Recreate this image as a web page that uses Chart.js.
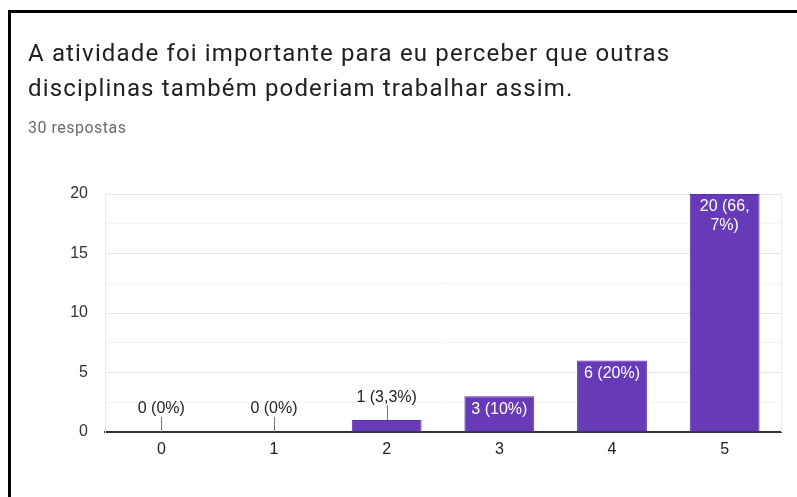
<!DOCTYPE html>
<html>
<head>
<meta charset="utf-8">
<script src="https://cdn.jsdelivr.net/npm/chart.js@4.4.1/dist/chart.umd.min.js"></script>
<style>
    body { margin: 0; background: #fff; }
    #frame { position: absolute; left: 8px; top: 10px; width: 800px; height: 500px;
        border-top: 3px solid #000; border-left: 3px solid #000; }
    #title { position: absolute; left: 28px; top: 36px; font-family: Roboto, Arial, sans-serif;
        font-size: 24px; line-height: 35px; letter-spacing: 1.15px; color: #202124; white-space: nowrap; }
    #sub { position: absolute; left: 28px; top: 120px; font-family: Roboto, Arial, sans-serif;
        font-size: 16px; line-height: 16px; letter-spacing: 0.5px; color: #6b6b6b; }
    #wrap { position: absolute; left: 0; top: 0; width: 797px; height: 497px; }
</style>
</head>
<body>
<div id="frame"></div>
<div id="wrap"><canvas id="dashboardBar"></canvas></div>
<div id="title">A atividade foi importante para eu perceber que outras<br>disciplinas também poderiam trabalhar assim.</div>
<div id="sub">30 respostas</div>
<script>
const categories = ['0', '1', '2', '3', '4', '5'];
const counts = [0, 0, 1, 3, 6, 20];
const percents = ['0%', '0%', '3,3%', '10%', '20%', '66,7%'];
const yTicks = [0, 5, 10, 15, 20];

const purple = '#673ab7';
const labelFont = '16px "Liberation Sans", Arial, sans-serif';

// break text in lines that fit inside the bar
function wrapText(ctx, text, maxWidth) {
    if (ctx.measureText(text).width <= maxWidth) return [text];
    let parts = text.split(/(?<=,)|(?<= )/);
    let lines = [];
    let cur = '';
    parts.forEach(p => {
        if (cur && ctx.measureText(cur + p).width > maxWidth) {
            lines.push(cur.trim());
            cur = p;
        } else {
            cur += p;
        }
    });
    if (cur) lines.push(cur.trim());
    return lines;
}

const barLabels = {
    id: 'barLabels',
    afterDatasetsDraw(chart) {
        const ctx = chart.ctx;
        const area = chart.chartArea;
        ctx.save();
        // light frame line on the right side of the plot
        ctx.strokeStyle = '#ebebeb';
        ctx.lineWidth = 1;
        ctx.beginPath();
        ctx.moveTo(area.right + 0.5, area.top);
        ctx.lineTo(area.right + 0.5, area.bottom);
        ctx.stroke();

        ctx.font = labelFont;
        ctx.textAlign = 'center';
        ctx.textBaseline = 'middle';
        chart.getDatasetMeta(0).data.forEach((bar, i) => {
            const text = counts[i] + ' (' + percents[i] + ')';
            const h = bar.base - bar.y;
            if (h > 24) {
                ctx.fillStyle = '#fff';
                const lines = wrapText(ctx, text, bar.width - 4);
                lines.forEach((l, k) => {
                    ctx.fillText(l, bar.x, bar.y + 13 + k * 19);
                });
            } else {
                ctx.strokeStyle = '#777';
                ctx.beginPath();
                ctx.moveTo(Math.round(bar.x) + 0.5, bar.y - 15);
                ctx.lineTo(Math.round(bar.x) + 0.5, bar.y);
                ctx.stroke();
                ctx.fillStyle = '#222';
                ctx.fillText(text, bar.x, bar.y - 23);
            }
        });
        ctx.restore();
    }
};

const dataBar = {
    labels: categories,
    datasets: [{
        data: counts,
        backgroundColor: purple,
        borderColor: '#5a2ea6',
        borderWidth: 1,
        barPercentage: 0.62,
        categoryPercentage: 1
    }]
};

const configBar = {
    type: 'bar',
    data: dataBar,
    options: {
        responsive: true,
        maintainAspectRatio: false,
        animation: false,
        layout: { padding: { left: 0, right: 16, top: 194, bottom: 0 } },
        plugins: { legend: { display: false }, tooltip: { enabled: false } },
        scales: {
            x: {
                grid: { display: false, drawTicks: false },
                border: { color: '#333', width: 2 },
                ticks: { color: '#222', font: { family: '"Liberation Sans", Arial, sans-serif', size: 16 }, padding: 8 },
                afterFit: (scale) => { scale.height = 65; }
            },
            y: {
                min: 0,
                max: yTicks[yTicks.length - 1],
                grid: {
                    drawTicks: false,
                    color: (c) => {
                        if (c.tick.value === 0) return 'rgba(0,0,0,0)';
                        return yTicks.includes(c.tick.value) ? '#e6e6e6' : '#f4f4f4';
                    }
                },
                border: { display: true, color: '#ebebeb', width: 1 },
                ticks: {
                    stepSize: 2.5,
                    color: '#333',
                    padding: 17,
                    font: { family: '"Liberation Sans", Arial, sans-serif', size: 16 },
                    callback: (v) => yTicks.includes(v) ? v : ''
                },
                afterFit: (scale) => { scale.width = 105; }
            }
        }
    },
    plugins: [barLabels]
};

new Chart(
    document.getElementById('dashboardBar'),
    configBar
);
</script>
</body>
</html>
